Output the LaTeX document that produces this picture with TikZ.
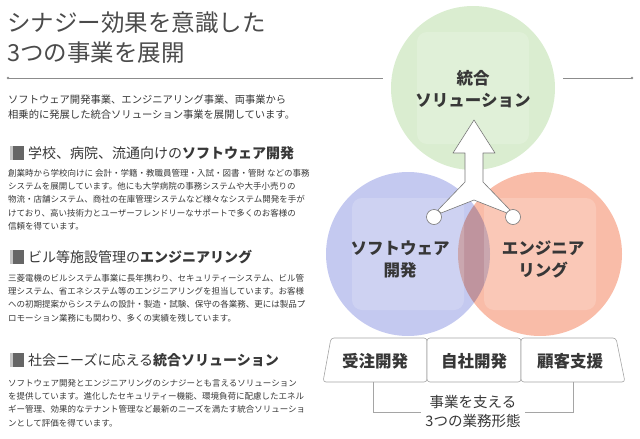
\documentclass[tikz,border=0pt]{standalone}
\usepackage{fontspec}
\setmainfont{Noto Sans CJK JP}
\usepackage{tikz}
\usetikzlibrary{arrows.meta,positioning,calc}
\definecolor{inkgray}{RGB}{55,55,55}
\definecolor{titlegray}{RGB}{75,75,75}
\definecolor{rulegray}{RGB}{140,140,140}
\definecolor{boxgray}{RGB}{165,165,165}
\definecolor{arrowgray}{RGB}{120,120,120}
\definecolor{solgreen}{RGB}{218,237,208}
\definecolor{swblue}{RGB}{196,201,240}
\definecolor{engred}{RGB}{249,188,168}

\begin{document}
\begin{tikzpicture}[x=1pt, y=1pt, >=Latex,
  every node/.style={text=inkgray, inner sep=0pt},
  titletext/.style={anchor=west, text=titlegray, font=\fontsize{23.5}{28}\selectfont},
  headtext/.style={anchor=west, font=\fontsize{14}{16}\selectfont},
  bodytext/.style={anchor=north west, align=left, font=\fontsize{8.5}{13.3}\selectfont},
  circtext/.style={align=center, font=\bfseries\fontsize{16.5}{22}\selectfont},
  boxlabel/.style={font=\bfseries\fontsize{16.5}{20}\selectfont},
  bizcircle/.style={circle, minimum size=164},
  bizbox/.style={draw=boxgray, fill=white, line width=0.6, rounded corners=3}]
\useasboundingbox (0,0) rectangle (640,-439);

\node[titletext] (t1) at (7,-23) {シナジー効果を意識した};
\node[titletext] (t2) at (7,-53) {3つの事業を展開};
\coordinate (r0) at (8,-78);
\coordinate (r1) at (383,-78);
\coordinate (r2) at (563,-78);
\coordinate (r3) at (632,-78);
\draw[rulegray, line width=0.6] (r0) -- (r1) (r2) -- (r3);
\fill[rulegray] (r0) circle (1.3) (r3) circle (1.3);

\node[bodytext, font=\fontsize{10.3}{15}\selectfont] (intro) at (8,-95)
  {ソフトウェア開発事業、エンジニアリング事業、両事業から\\相乗的に発展した統合ソリューション事業を展開しています。};

\foreach \k/\y/\t in {1/153/学校、病院、流通向けの{\bfseries ソフトウェア開発},
    2/257/ビル等施設管理の{\bfseries エンジニアリング},
    3/360/社会ニーズに応える{\bfseries 統合ソリューション}} {
  \fill[gray!45] (10,-\y+7) rectangle (13,-\y-7);
  \fill[gray!80!black] (13,-\y+7) rectangle (24,-\y-7);
  \node[headtext] (h\k) at (28,-\y) {\t};
}
\node[bodytext] (p1) at (8,-169)
  {創業時から学校向けに 会計・学籍・教職員管理・入試・図書・管財 などの事務\\
   システムを展開しています。他にも大学病院の事務システムや大手小売りの\\
   物流・店舗システム、商社の在庫管理システムなど様々なシステム開発を手が\\
   けており、高い技術力とユーザーフレンドリーなサポートで多くのお客様の\\
   信頼を得ています。};
\node[bodytext] (p2) at (8,-274)
  {三菱電機のビルシステム事業に長年携わり、セキュリティーシステム、ビル管\\
   理システム、省エネシステム等のエンジニアリングを担当しています。お客様\\
   への初期提案からシステムの設計・製造・試験、保守の各業務、更には製品プ\\
   ロモーション業務にも関わり、多くの実績を残しています。};
\node[bodytext] (p3) at (8,-379)
  {ソフトウェア開発とエンジニアリングのシナジーとも言えるソリューション\\
   を提供しています。進化したセキュリティー機能、環境負荷に配慮したエネル\\
   ギー管理、効果的なテナント管理など最新のニーズを満たす統合ソリューショ\\
   ンとして評価を得ています。};

\node[bizcircle, fill=solgreen] (gc) at (473,-88) {};
\begin{scope}[blend mode=multiply]
  \node[bizcircle, fill=swblue] (bc) at (408,-254) {};
  \node[bizcircle, fill=engred] (rc) at (540,-254) {};
\end{scope}
\foreach \c in {gc,bc,rc}
  \fill[white, opacity=0.18, rounded corners=10] ($(\c)+(-56,-56)$) rectangle ($(\c)+(56,56)$);

\filldraw[draw=arrowgray, fill=white, line width=0.6, line join=round]
  (474,-120) -- (495,-153) -- (483,-153) -- (483,-182) -- (510,-210) -- (507,-213)
  -- (474,-200) -- (441,-213) -- (438,-210) -- (465,-182) -- (465,-153) -- (453,-153) -- cycle;
\node[circle, draw=arrowgray, fill=white, line width=0.6, minimum size=15] (jl) at (434,-217) {};
\node[circle, draw=arrowgray, fill=white, line width=0.6, minimum size=15] (jr) at (513,-217) {};

\node[circtext] (gl) at (473,-89) {統合\\ソリューション};
\node[circtext] (bl) at (400,-259) {ソフトウェア\\開発};
\node[circtext] (rl) at (543,-259) {エンジニア\\リング};

\path[bizbox] (331,-338) -- (427,-338) -- (427,-382) -- (323,-382) -- cycle;
\path[bizbox] (427,-338) -- (521,-338) -- (521,-382) -- (427,-382) -- cycle;
\path[bizbox] (521,-338) -- (616,-338) -- (625,-382) -- (521,-382) -- cycle;
\foreach \k/\x/\t in {1/375/受注開発, 2/474/自社開発, 3/570/顧客支援}
  \node[boxlabel] (bx\k) at (\x,-361) {\t};

\node[align=center, inner xsep=4, font=\fontsize{14.5}{19}\selectfont] (forms) at (473,-412)
  {事業を支える\\3つの業務形態};
\coordinate (fl) at (373,-382);
\coordinate (fr) at (573,-382);
\draw[boxgray, line width=0.6] (fl) |- (forms.west) (fr) |- (forms.east);
\end{tikzpicture}
\end{document}
